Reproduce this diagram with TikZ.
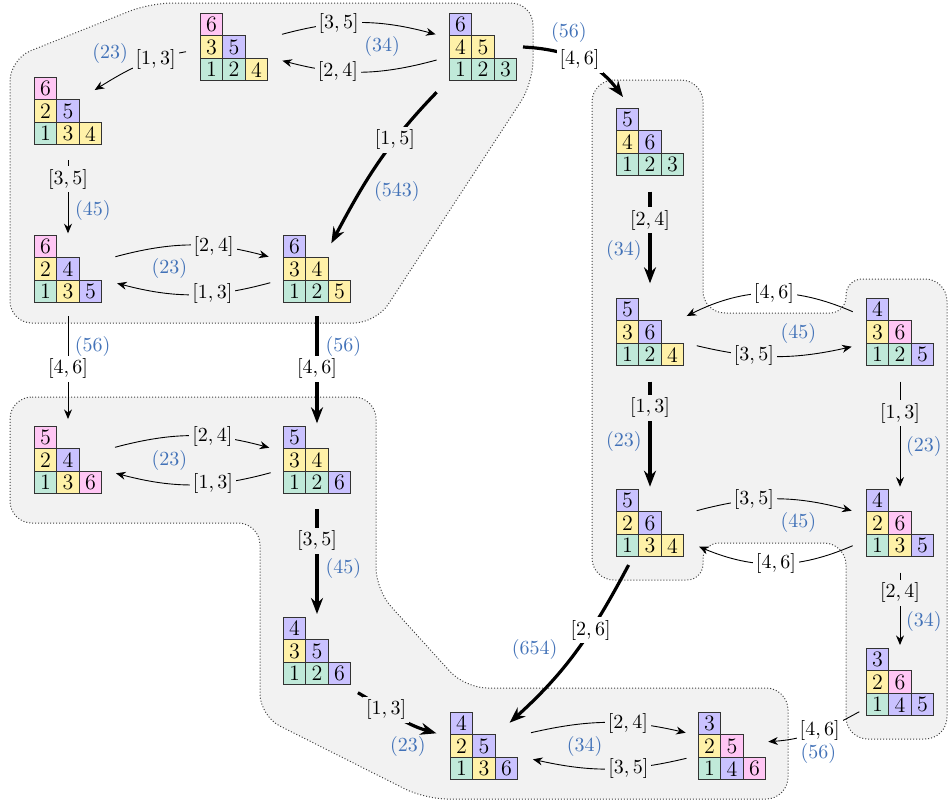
\documentclass[tikz,border=0pt]{standalone}
\usetikzlibrary{arrows.meta}
\definecolor{colK}{RGB}{255,198,244}
\definecolor{colY}{RGB}{255,241,168}
\definecolor{colP}{RGB}{202,194,255}
\definecolor{colG}{RGB}{192,233,217}
\definecolor{regiongray}{RGB}{242,242,242}
\definecolor{labblue}{RGB}{66,114,184}
\tikzset{
  cell/.style={draw=black!80, line width=0.5pt, minimum size=11.3pt, inner sep=0pt, outer sep=0pt, font=\fontsize{11}{11}\selectfont},
  tabbox/.style={minimum width=33.9pt, minimum height=33.9pt, inner sep=0pt, outer sep=0pt},
  region/.style={fill=regiongray, draw=black!75, line width=0.5pt, dash pattern=on 0.5pt off 1pt, rounded corners=11pt},
  thinarr/.style={line width=0.45pt, -{Stealth[length=4.8pt,width=4pt]}},
  thickarr/.style={line width=1.6pt, -{Stealth[length=8pt,width=6pt]}},
  lab/.style={fill=regiongray, inner sep=1.5pt},
  labw/.style={lab, fill=white},
  perm/.style={text=labblue, inner sep=1pt}
}
\def\mkcell#1#2#3{\node[cell,fill=col#1] at #3 {#2};}
\newcommand\ytab[8]{%
  \node[tabbox] (#1) at #2 {};
  \mkcell#3{([shift={(5.65pt,28.25pt)}]#1.south west)}
  \mkcell#4{([shift={(5.65pt,16.95pt)}]#1.south west)}
  \mkcell#5{([shift={(16.95pt,16.95pt)}]#1.south west)}
  \mkcell#6{([shift={(5.65pt,5.65pt)}]#1.south west)}
  \mkcell#7{([shift={(16.95pt,5.65pt)}]#1.south west)}
  \mkcell#8{([shift={(28.25pt,5.65pt)}]#1.south west)}
}
\begin{document}
\begin{tikzpicture}[x=0.5pt,y=0.5pt]
\useasboundingbox (0,0) rectangle (949,-805);
% regions
\draw[region] (150,-3) -- (533,-3) -- (533,-83) -- (376,-323) -- (10,-323) -- (10,-59) -- cycle;
\draw[region] (10,-397) -- (376,-397) -- (376,-590) -- (465,-688) -- (788,-688) -- (788,-799) -- (425,-799) -- (260,-716) -- (260,-523) -- (10,-523) -- cycle;
\draw[region] (592,-80) -- (703,-80) -- (703,-313) [rounded corners=8pt] -- (846,-313) -- (846,-279) [rounded corners=11pt] -- (947,-279) -- (947,-739) -- (846,-739) -- (846,-543) [rounded corners=8pt] -- (703,-543) -- (703,-580) [rounded corners=11pt] -- (592,-580) -- cycle;
% tableaux
\ytab{T1}{(234,-47)}{K6}{Y3}{P5}{G1}{G2}{Y4}
\ytab{T2}{(483,-47)}{P6}{Y4}{Y5}{G1}{G2}{G3}
\ytab{T3}{(68,-111)}{K6}{Y2}{P5}{G1}{Y3}{Y4}
\ytab{T4}{(68,-269)}{K6}{Y2}{P4}{G1}{Y3}{P5}
\ytab{T5}{(317,-269)}{P6}{Y3}{Y4}{G1}{G2}{Y5}
\ytab{T6}{(68,-460)}{K5}{Y2}{P4}{G1}{Y3}{K6}
\ytab{T7}{(317,-460)}{P5}{Y3}{Y4}{G1}{G2}{P6}
\ytab{T8}{(317,-651)}{P4}{Y3}{P5}{G1}{G2}{P6}
\ytab{T9}{(484,-746)}{P4}{Y2}{P5}{G1}{Y3}{P6}
\ytab{T10}{(732,-746)}{P3}{Y2}{K5}{G1}{P4}{K6}
\ytab{T11}{(650,-142)}{P5}{Y4}{P6}{G1}{G2}{G3}
\ytab{T12}{(650,-332)}{P5}{Y3}{P6}{G1}{G2}{Y4}
\ytab{T13}{(900,-332)}{P4}{Y3}{K6}{G1}{G2}{P5}
\ytab{T14}{(650,-523)}{P5}{Y2}{P6}{G1}{Y3}{Y4}
\ytab{T15}{(900,-523)}{P4}{Y2}{K6}{G1}{Y3}{P5}
\ytab{T16}{(900,-682)}{P3}{Y2}{K6}{G1}{P4}{P5}
% edges
\draw[thinarr] ([shift={(48,12.7)}]T1.center) to[bend left=15] node[lab,pos=0.36] (l1) {$[3,5]$} ([shift={(-47.4,12.7)}]T2.center);
\draw[thinarr] ([shift={(-46.4,-13)}]T2.center) to[bend left=15] node[lab,pos=0.65] (l2) {$[2,4]$} ([shift={(48.4,-13.7)}]T1.center);
\draw[thinarr] ([shift={(-48,-4.7)}]T1.center) to[out=190,in=32] node[lab,pos=0.3] (l3) {$[1,3]$} ([shift={(26.7,21)}]T3.center);
\draw[thinarr] ([shift={(0,-49)}]T3.center) -- node[lab,pos=0.26] (l4) {$[3,5]$} ([shift={(0,35.7)}]T4.center);
\draw[thinarr] ([shift={(47.4,12.3)}]T4.center) to[bend left=15] node[lab,pos=0.65] (l5) {$[2,4]$} ([shift={(-48.4,12.3)}]T5.center);
\draw[thinarr] ([shift={(-46.7,-13.7)}]T5.center) to[bend left=15] node[lab,pos=0.37] (l6) {$[1,3]$} ([shift={(49.1,-14.3)}]T4.center);
\draw[thickarr] ([shift={(-46.4,-45.3)}]T2.center) to[out=226,in=62] node[lab,pos=0.33] (l7) {$[1,5]$} ([shift={(14.3,25.7)}]T5.center);
\draw[thinarr] ([shift={(0,-47)}]T4.center) -- node[labw,pos=0.51] (l8) {$[4,6]$} ([shift={(0,41)}]T6.center);
\draw[thickarr] ([shift={(0,-47)}]T5.center) -- node[labw,pos=0.49] (l9) {$[4,6]$} ([shift={(0,36.7)}]T7.center);
\draw[thickarr] ([shift={(40,0)}]T2.center) to[out=-3,in=127] node[labw,pos=0.5] (l10) {$[4,6]$} ([shift={(-27,45)}]T11.center);
\draw[thinarr] ([shift={(47,12.7)}]T6.center) to[bend left=15] node[lab,pos=0.64] (l11) {$[2,4]$} ([shift={(-47.7,12.3)}]T7.center);
\draw[thinarr] ([shift={(-46.3,-12.7)}]T7.center) to[bend left=15] node[lab,pos=0.365] (l12) {$[1,3]$} ([shift={(48,-13.3)}]T6.center);
\draw[thickarr] ([shift={(0,-49.3)}]T7.center) -- node[lab,pos=0.3] (l13) {$[3,5]$} ([shift={(0,37)}]T8.center);
\draw[thickarr] ([shift={(40.9,-41.7)}]T8.center) to[out=-30,in=164] node[lab,pos=0.36] (l14) {$[1,3]$} ([shift={(-47.6,12.7)}]T9.center);
\draw[thinarr] ([shift={(47,13.3)}]T9.center) to[bend left=13] node[lab,pos=0.635] (l15) {$[2,4]$} ([shift={(-46.3,13.3)}]T10.center);
\draw[thinarr] ([shift={(-45.6,-12.3)}]T10.center) to[bend left=13] node[lab,pos=0.37] (l16) {$[3,5]$} ([shift={(48.9,-13.3)}]T9.center);
\draw[thickarr] ([shift={(-21.4,-42)}]T14.center) to[out=242,in=42] node[labw,pos=0.37] (l17) {$[2,6]$} ([shift={(25.6,23.3)}]T9.center);
\draw[thinarr] ([shift={(-40.7,-29.7)}]T16.center) to[out=209,in=4] node[labw,pos=0.45] (l18) {$[4,6]$} ([shift={(36.3,4.3)}]T10.center);
\draw[thickarr] ([shift={(0,-49.7)}]T11.center) -- node[lab,pos=0.31] (l19) {$[2,4]$} ([shift={(0,48.7)}]T12.center);
\draw[thinarr] ([shift={(-47.3,20.3)}]T13.center) to[bend right=25] node[labw,pos=0.47] (l20) {$[4,6]$} ([shift={(36.7,16)}]T12.center);
\draw[thinarr] ([shift={(46.7,-13.7)}]T12.center) to[bend right=13] node[lab,pos=0.36] (l21) {$[3,5]$} ([shift={(-48.3,-14.7)}]T13.center);
\draw[thickarr] ([shift={(0,-49.7)}]T12.center) -- node[lab,pos=0.25] (l22) {$[1,3]$} ([shift={(0,36.3)}]T14.center);
\draw[thinarr] ([shift={(0,-49.7)}]T13.center) -- node[lab,pos=0.3] (l23) {$[1,3]$} ([shift={(0,36.3)}]T15.center);
\draw[thinarr] ([shift={(46.7,12.3)}]T14.center) to[bend left=15] node[lab,pos=0.36] (l24) {$[3,5]$} ([shift={(-48.3,12.3)}]T15.center);
\draw[thinarr] ([shift={(-47.3,-22.7)}]T15.center) to[bend left=23] node[labw,pos=0.5] (l25) {$[4,6]$} ([shift={(49,-23.7)}]T14.center);
\draw[thinarr] ([shift={(0,-49.7)}]T15.center) -- node[lab,pos=0.28] (l26) {$[2,4]$} ([shift={(0,37)}]T16.center);
% permutation labels
\node[perm] (p1) at (382.2,-46.7) {$(34)$};
\node[perm] (p2) at (110.2,-53.3) {$(23)$};
\node[perm] (p3) at (93,-210.7) {$(45)$};
\node[perm] (p4) at (169.4,-268.3) {$(23)$};
\node[perm] (p5) at (397,-191.7) {$(543)$};
\node[perm] (p6) at (92.7,-346) {$(56)$};
\node[perm] (p7) at (343.3,-346) {$(56)$};
\node[perm] (p8) at (569,-32) {$(56)$};
\node[perm] (p9) at (169.3,-460) {$(23)$};
\node[perm] (p10) at (343.3,-568.3) {$(45)$};
\node[perm] (p11) at (407.9,-746.7) {$(23)$};
\node[perm] (p12) at (584.6,-746.7) {$(34)$};
\node[perm] (p13) at (534.6,-649.3) {$(654)$};
\node[perm] (p14) at (818.3,-753.3) {$(56)$};
\node[perm] (p15) at (624,-250.7) {$(34)$};
\node[perm] (p16) at (798.3,-333.3) {$(45)$};
\node[perm] (p17) at (624,-441.7) {$(23)$};
\node[perm] (p18) at (924,-446.7) {$(23)$};
\node[perm] (p19) at (798.3,-522.7) {$(45)$};
\node[perm] (p20) at (924,-621.7) {$(34)$};
\end{tikzpicture}
\end{document}
